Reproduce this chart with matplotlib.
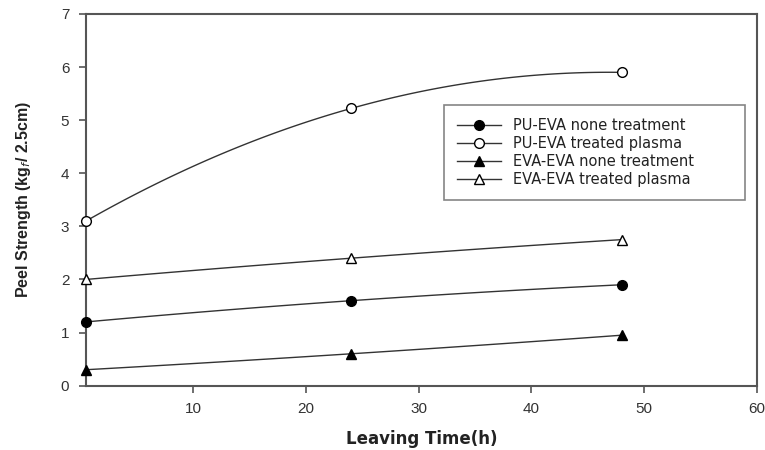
import numpy as np
import matplotlib
matplotlib.use('Agg')
import matplotlib.pyplot as plt

# Dados
tempo = [0.5, 24, 48]
pu_none = [1.2, 1.6, 1.9]
pu_plasma = [3.1, 5.22, 5.9]
eva_none = [0.3, 0.6, 0.95]
eva_plasma = [2.0, 2.4, 2.75]

series = [
    ('PU-EVA none treatment', pu_none, 'o', 'black'),
    ('PU-EVA treated plasma', pu_plasma, 'o', 'white'),
    ('EVA-EVA none treatment', eva_none, '^', 'black'),
    ('EVA-EVA treated plasma', eva_plasma, '^', 'white'),
]

plt.rcParams['font.family'] = ['Liberation Sans', 'DejaVu Sans']

fig = plt.figure(figsize=(7.65, 4.5), dpi=100)
ax = fig.add_axes([0.1124, 0.143, 0.8771, 0.826])

# curva suave (quadratica pelos 3 pontos) para as linhas
xs = np.linspace(tempo[0], tempo[-1], 100)
for nome, vals, mk, face in series:
    coef = np.polyfit(tempo, vals, 2)
    ax.plot(xs, np.polyval(coef, xs), color='#333333', lw=1.0, zorder=2)
    ax.plot(tempo, vals, linestyle='none', marker=mk, markersize=7,
            markerfacecolor=face, markeredgecolor='black', markeredgewidth=1.0,
            clip_on=False, zorder=3)
    # entrada da legenda
    ax.plot([], [], color='#333333', lw=1.0, marker=mk, markersize=7,
            markerfacecolor=face, markeredgecolor='black', label=nome)

ax.set_xlim(0.5, 60)
ax.set_ylim(0, 7)
ax.set_xticks([10, 20, 30, 40, 50, 60])
ax.set_yticks(range(0, 8))

for s in ax.spines.values():
    s.set_color('#555555')
    s.set_linewidth(1.5)
ax.tick_params(direction='out', length=5, width=1.2, color='#555555',
               labelsize=11, labelcolor='#333333', pad=7)

ax.set_xlabel('Leaving Time(h)', fontsize=12, fontweight='bold',
              color='#222222', labelpad=10, family='DejaVu Sans')
ax.set_ylabel(r'Peel Strength (kg$_f$/ 2.5cm)', fontsize=11.5,
              fontweight='bold', color='#222222', labelpad=20)

leg = ax.legend(loc='upper left', bbox_to_anchor=(0.534, 0.508, 0.448, 0.247),
                mode='expand', prop={'family': 'DejaVu Sans', 'size': 10.5},
                frameon=True, fancybox=False, handlelength=3.0,
                borderpad=0.9, labelspacing=0.2, handletextpad=0.8,
                borderaxespad=0)
leg.get_frame().set_edgecolor('#666666')
leg.get_frame().set_linewidth(1.2)
for t in leg.get_texts():
    t.set_color('#222222')

fig.savefig('out.png', dpi=100)
